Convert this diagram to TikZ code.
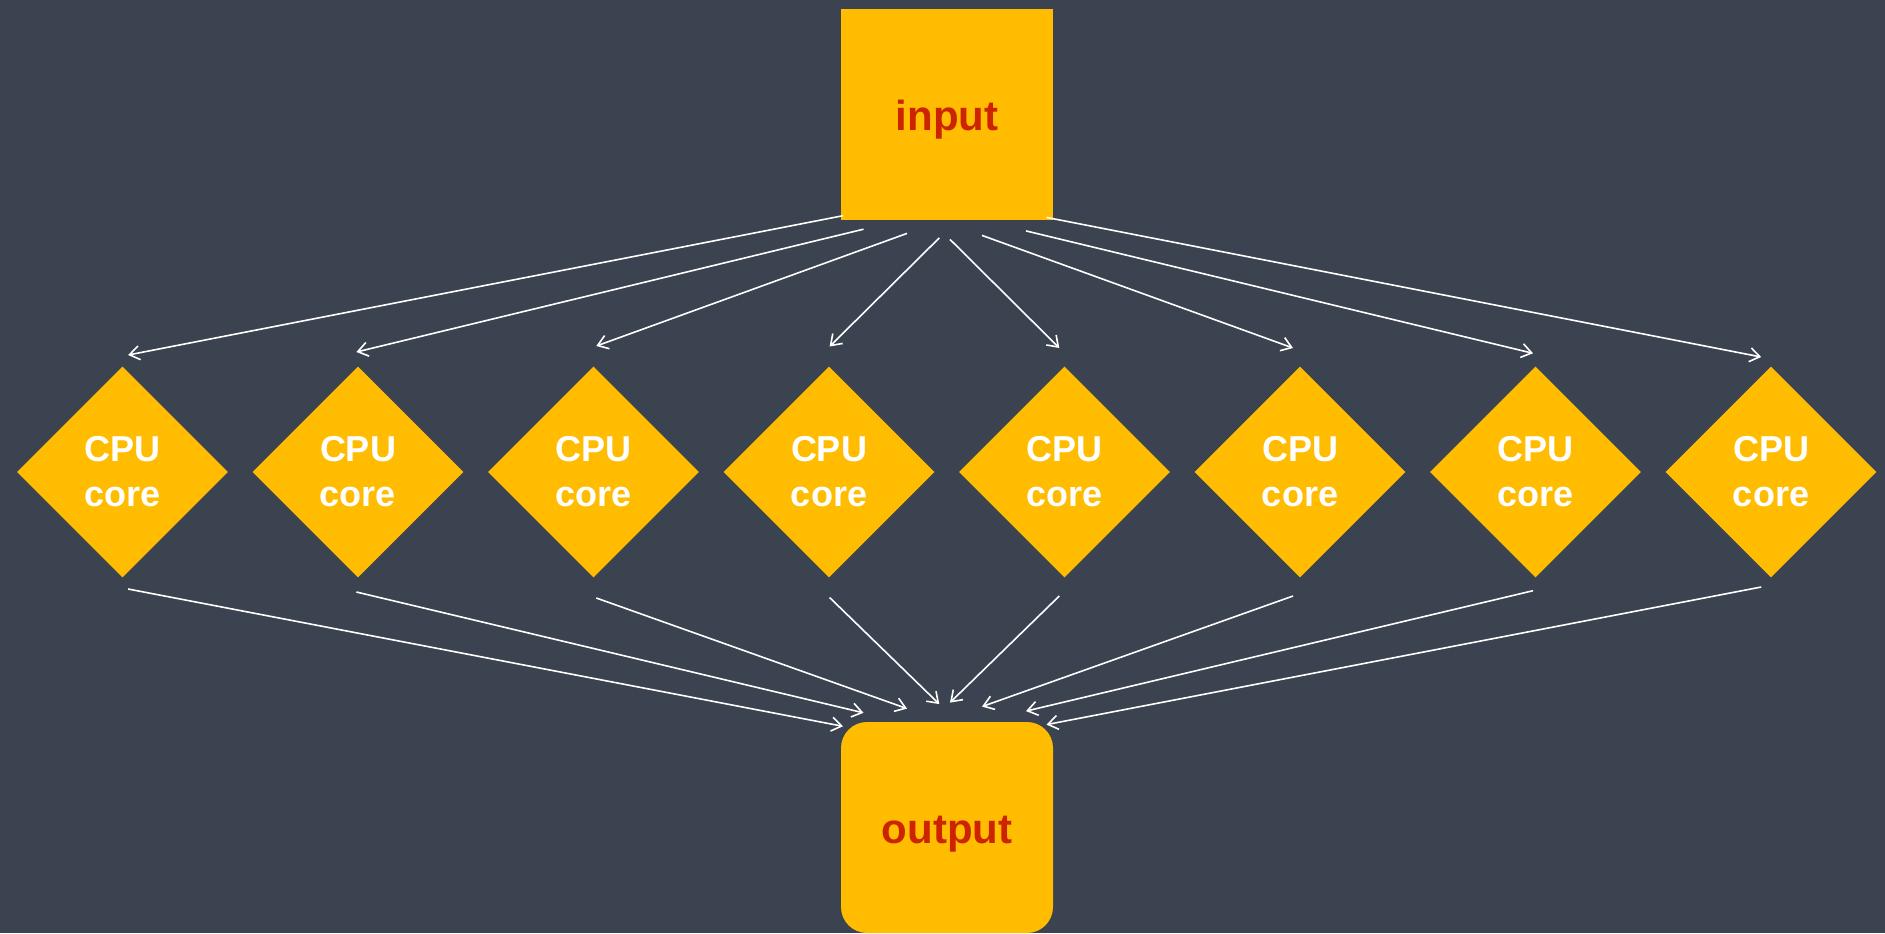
\documentclass[tikz,border=0pt]{standalone}
\usepackage{fontspec}
\setmainfont{Liberation Sans}
\usetikzlibrary{arrows.meta,shapes.geometric,calc}
\definecolor{slate}{RGB}{59,66,80}
\definecolor{amber}{RGB}{255,188,0}
\definecolor{rust}{RGB}{204,36,0}

\begin{document}
\begin{tikzpicture}[
            x=0.5pt, y=-0.5pt,
            core/.style={diamond,fill=amber,minimum width=105.5pt,minimum height=105.5pt,inner sep=0pt,align=center,text=white,font=\fontsize{18}{22.5}\selectfont\bfseries},
            io/.style={rectangle,fill=amber,minimum width=106pt,minimum height=105.5pt,inner sep=0pt,text height=16pt,text depth=0pt,text=rust,font=\fontsize{21}{25}\selectfont\bfseries},
            feed/.style={draw=white,line width=0.8pt,-{Straight Barb[length=5pt,width=7pt]}}
            ]
            \fill[slate] (0,0) rectangle (1885,933);
            \useasboundingbox (0,0) rectangle (1885,933);
            \node[io] (input) at (947,114.5) {input};
            \node[io,rounded corners=13pt] (output) at (947,827.5) {output};
            \node[core] (cpu1) at (122.5,472) {CPU\\core};
            \node[core] (cpu2) at (358,472) {CPU\\core};
            \node[core] (cpu3) at (593.5,472) {CPU\\core};
            \node[core] (cpu4) at (829,472) {CPU\\core};
            \node[core] (cpu5) at (1064.5,472) {CPU\\core};
            \node[core] (cpu6) at (1300,472) {CPU\\core};
            \node[core] (cpu7) at (1535.5,472) {CPU\\core};
            \node[core] (cpu8) at (1771,472) {CPU\\core};
            % fan out
            \draw[feed] ($(input.south)+(-104,-4.7)$) -- ($(cpu1)+(5.6,-117)$);
            \draw[feed] ($(input.south)+(-83.5,8.8)$) -- ($(cpu2)+(-1.6,-120)$);
            \draw[feed] ($(input.south)+(-40,13)$) -- ($(cpu3)+(2.8,-126)$);
            \draw[feed] ($(input.south)+(-7.7,17.5)$) -- ($(cpu4)+(0.6,-125.5)$);
            \draw[feed] ($(input.south)+(3,19)$) -- ($(cpu5)+(-5.2,-124)$);
            \draw[feed] ($(input.south)+(35,15)$) -- ($(cpu6)+(-7,-124)$);
            \draw[feed] ($(input.south)+(79,10.5)$) -- ($(cpu7)+(-2.5,-118.7)$);
            \draw[feed] ($(input.south)+(99.5,-3)$) -- ($(cpu8)+(-9.8,-115)$);
            % fan in
            \draw[feed] ($(cpu1)+(5.6,117)$) -- ($(output.north)+(-104,4.7)$);
            \draw[feed] ($(cpu2)+(-1.6,120)$) -- ($(output.north)+(-83.5,-8.8)$);
            \draw[feed] ($(cpu3)+(2.8,126)$) -- ($(output.north)+(-40,-13)$);
            \draw[feed] ($(cpu4)+(0.6,125.5)$) -- ($(output.north)+(-7.7,-17.5)$);
            \draw[feed] ($(cpu5)+(-5.2,124)$) -- ($(output.north)+(3,-19)$);
            \draw[feed] ($(cpu6)+(-7,124)$) -- ($(output.north)+(35,-15)$);
            \draw[feed] ($(cpu7)+(-2.5,118.7)$) -- ($(output.north)+(79,-10.5)$);
            \draw[feed] ($(cpu8)+(-9.8,115)$) -- ($(output.north)+(99.5,3)$);
        \end{tikzpicture}
\end{document}
